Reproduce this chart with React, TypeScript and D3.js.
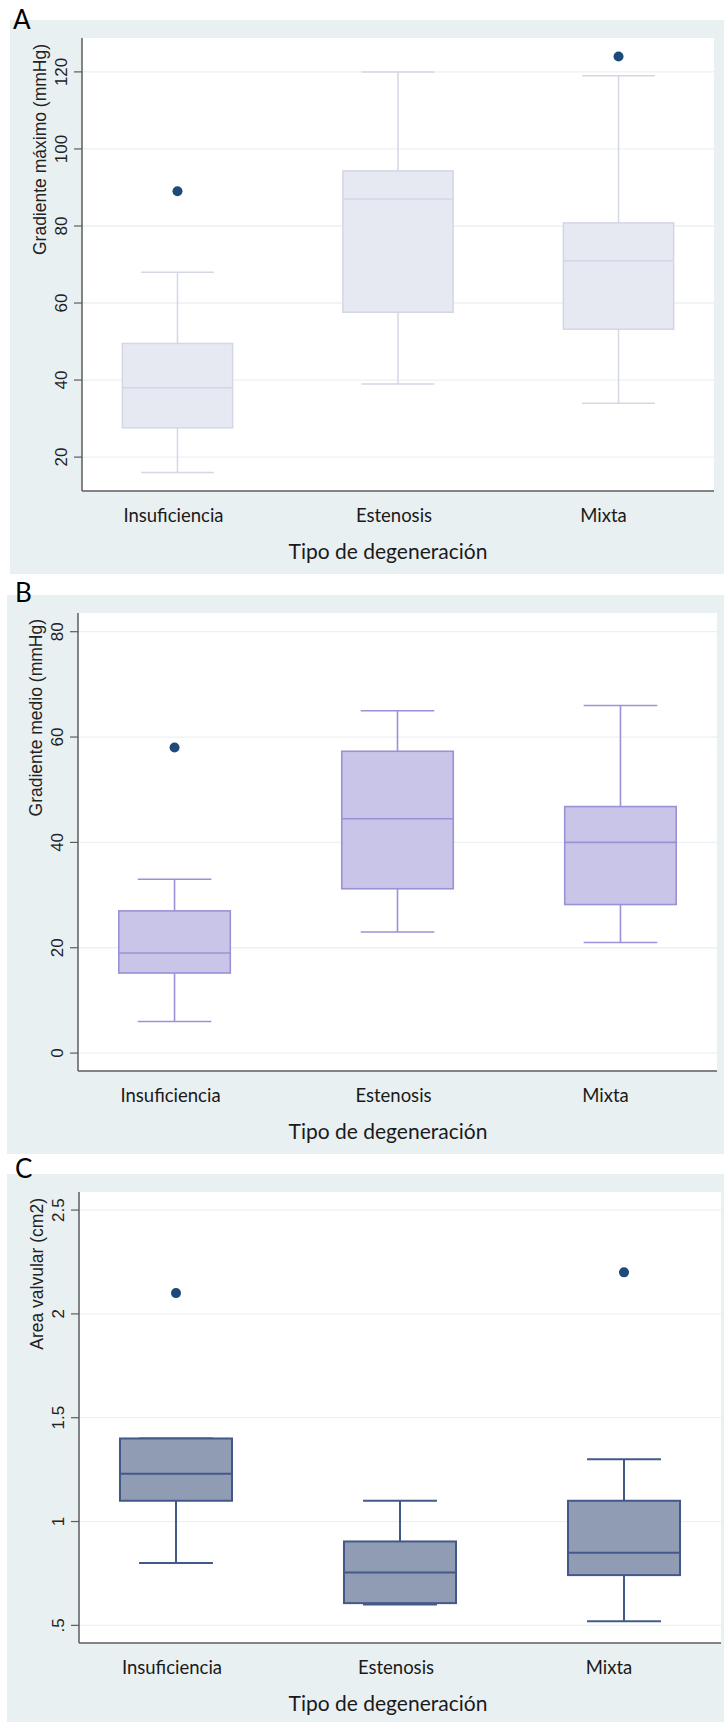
import React from "react";
import * as d3 from "d3";

const categories = ["Insuficiencia", "Estenosis", "Mixta"];

// Panel A — Gradiente máximo (mmHg)
const gmaxLower = [16, 39, 34];
const gmaxQ1 = [27.6, 57.6, 53.2];
const gmaxMedian = [38, 87, 71];
const gmaxQ3 = [49.5, 94.3, 80.8];
const gmaxUpper = [68, 120, 119];
const gmaxOutliers = [[89], [], [124]];
const gmaxTicks = [20, 40, 60, 80, 100, 120];
const gmaxTickLabels = ["20", "40", "60", "80", "100", "120"];

// Panel B — Gradiente medio (mmHg)
const gmedLower = [6, 23, 21];
const gmedQ1 = [15.2, 31.2, 28.2];
const gmedMedian = [19, 44.5, 40];
const gmedQ3 = [27, 57.3, 46.8];
const gmedUpper = [33, 65, 66];
const gmedOutliers = [[58], [], []];
const gmedTicks = [0, 20, 40, 60, 80];
const gmedTickLabels = ["0", "20", "40", "60", "80"];

// Panel C — Area valvular (cm2)
const areaLower = [0.8, 0.6, 0.52];
const areaQ1 = [1.1, 0.607, 0.742];
const areaMedian = [1.23, 0.755, 0.85];
const areaQ3 = [1.4, 0.904, 1.1];
const areaUpper = [1.4, 1.1, 1.3];
const areaOutliers = [[2.1], [], [2.2]];
const areaTicks = [0.5, 1, 1.5, 2, 2.5];
const areaTickLabels = [".5", "1", "1.5", "2", "2.5"];

const xTitle = "Tipo de degeneración";
const labelDx = [-4, -4, -15];

const BG = "#e9f0f2";
const GRID = "#ebf1f4";
const AXIS = "#5c5c5c";
const OUTLIER = "#1d4a78";
const NUM_FONT = "'Liberation Sans', Arial, sans-serif";
const CAT_FONT = "Lato, 'Open Sans', sans-serif";

type PanelCfg = {
  letter: string;
  letterX: number;
  letterY: number;
  bg: [number, number, number, number];
  x0: number;
  x1: number;
  y0: number;
  y1: number;
  domain: [number, number];
  yTitle: string;
  fill: string;
  stroke: string;
  sw: number;
  lower: number[];
  q1: number[];
  median: number[];
  q3: number[];
  upper: number[];
  outliers: number[][];
  ticks: number[];
  tickLabels: string[];
};

const panels: PanelCfg[] = [
  {
    letter: "A", letterX: 13, letterY: 29,
    bg: [10, 20, 724, 574],
    x0: 82, x1: 714, y0: 38, y1: 491,
    domain: [11.2, 128.8],
    yTitle: "Gradiente máximo (mmHg)",
    fill: "#e6e9f2", stroke: "#d3d7e4", sw: 1.5,
    lower: gmaxLower, q1: gmaxQ1, median: gmaxMedian, q3: gmaxQ3, upper: gmaxUpper,
    outliers: gmaxOutliers, ticks: gmaxTicks, tickLabels: gmaxTickLabels,
  },
  {
    letter: "B", letterX: 15, letterY: 602,
    bg: [7, 595, 724, 1154],
    x0: 78, x1: 717, y0: 613, y1: 1071,
    domain: [-3.4, 83.55],
    yTitle: "Gradiente medio (mmHg)",
    fill: "#c9c5e8", stroke: "#9a92d6", sw: 1.6,
    lower: gmedLower, q1: gmedQ1, median: gmedMedian, q3: gmedQ3, upper: gmedUpper,
    outliers: gmedOutliers, ticks: gmedTicks, tickLabels: gmedTickLabels,
  },
  {
    letter: "C", letterX: 15, letterY: 1178,
    bg: [7, 1174, 724, 1722],
    x0: 79, x1: 721, y0: 1192, y1: 1643,
    domain: [0.415, 2.587],
    yTitle: "Area valvular (cm2)",
    fill: "#909cb4", stroke: "#44598a", sw: 2,
    lower: areaLower, q1: areaQ1, median: areaMedian, q3: areaQ3, upper: areaUpper,
    outliers: areaOutliers, ticks: areaTicks, tickLabels: areaTickLabels,
  },
];

function Panel({ p }: { p: PanelCfg }) {
  const x = d3.scalePoint<string>().domain(categories).range([p.x0, p.x1]).padding(0.433);
  const y = d3.scaleLinear().domain(p.domain).range([p.y1, p.y0]);
  const step = x.step();
  const bw = step * 0.5;
  const cw = step * 0.33;
  const [bx0, by0, bx1, by1] = p.bg;
  return (
    <g>
      <rect x={bx0} y={by0} width={bx1 - bx0} height={by1 - by0} fill={BG} />
      <rect x={p.x0} y={p.y0} width={p.x1 - p.x0} height={p.y1 - p.y0} fill="#ffffff" />
      {p.ticks.map((t) => (
        <line key={"g" + t} x1={p.x0} x2={p.x1} y1={y(t)} y2={y(t)} stroke={GRID} strokeWidth={1.3} />
      ))}
      {categories.map((c, i) => {
        const cx = x(c) as number;
        return (
          <g key={c}>
            <line x1={cx} x2={cx} y1={y(p.upper[i])} y2={y(p.q3[i])} stroke={p.stroke} strokeWidth={p.sw} />
            <line x1={cx} x2={cx} y1={y(p.q1[i])} y2={y(p.lower[i])} stroke={p.stroke} strokeWidth={p.sw} />
            <line x1={cx - cw / 2} x2={cx + cw / 2} y1={y(p.upper[i])} y2={y(p.upper[i])} stroke={p.stroke} strokeWidth={p.sw} />
            <line x1={cx - cw / 2} x2={cx + cw / 2} y1={y(p.lower[i])} y2={y(p.lower[i])} stroke={p.stroke} strokeWidth={p.sw} />
            <rect
              x={cx - bw / 2}
              y={y(p.q3[i])}
              width={bw}
              height={y(p.q1[i]) - y(p.q3[i])}
              fill={p.fill}
              stroke={p.stroke}
              strokeWidth={p.sw}
            />
            <line x1={cx - bw / 2} x2={cx + bw / 2} y1={y(p.median[i])} y2={y(p.median[i])} stroke={p.stroke} strokeWidth={p.sw} />
            {p.outliers[i].map((o, j) => (
              <circle key={j} cx={cx} cy={y(o)} r={5} fill={OUTLIER} />
            ))}
            <text
              x={cx + labelDx[i]}
              y={p.y1 + 31}
              textAnchor="middle"
              fontFamily={CAT_FONT}
              fontSize={18.5}
              fill="#1a1a1a"
            >
              {c}
            </text>
          </g>
        );
      })}
      <line x1={p.x0} x2={p.x0} y1={p.y0} y2={p.y1} stroke={AXIS} strokeWidth={1.5} />
      <line x1={p.x0} x2={p.x1} y1={p.y1} y2={p.y1} stroke={AXIS} strokeWidth={1.5} />
      {p.ticks.map((t, i) => (
        <g key={"t" + t}>
          <line x1={p.x0 - 8} x2={p.x0} y1={y(t)} y2={y(t)} stroke={AXIS} strokeWidth={1.2} />
          <text
            transform={`translate(${p.x0 - 15},${y(t)}) rotate(-90)`}
            textAnchor="middle"
            fontFamily={NUM_FONT}
            fontSize={17}
            fill="#222"
          >
            {p.tickLabels[i]}
          </text>
        </g>
      ))}
      <text
        transform={`translate(${p.x0 - 36},${p.y0 + 6}) rotate(-90)`}
        textAnchor="end"
        fontFamily={NUM_FONT}
        fontSize={17.5}
        fill="#222"
      >
        {p.yTitle}
      </text>
      <text x={388} y={p.y1 + 68} textAnchor="middle" fontFamily={CAT_FONT} fontSize={21} fill="#1a1a1a">
        {xTitle}
      </text>
      <text x={p.letterX} y={p.letterY} fontFamily={CAT_FONT} fontSize={26} fill="#000">
        {p.letter}
      </text>
    </g>
  );
}

export default function App() {
  return (
    <svg
      width={724}
      height={1722}
      style={{ position: "absolute", left: 0, top: 0, display: "block", background: "#fff" }}
    >
      <rect x={0} y={0} width={724} height={1722} fill="#ffffff" />
      {panels.map((p) => (
        <Panel key={p.letter} p={p} />
      ))}
    </svg>
  );
}
